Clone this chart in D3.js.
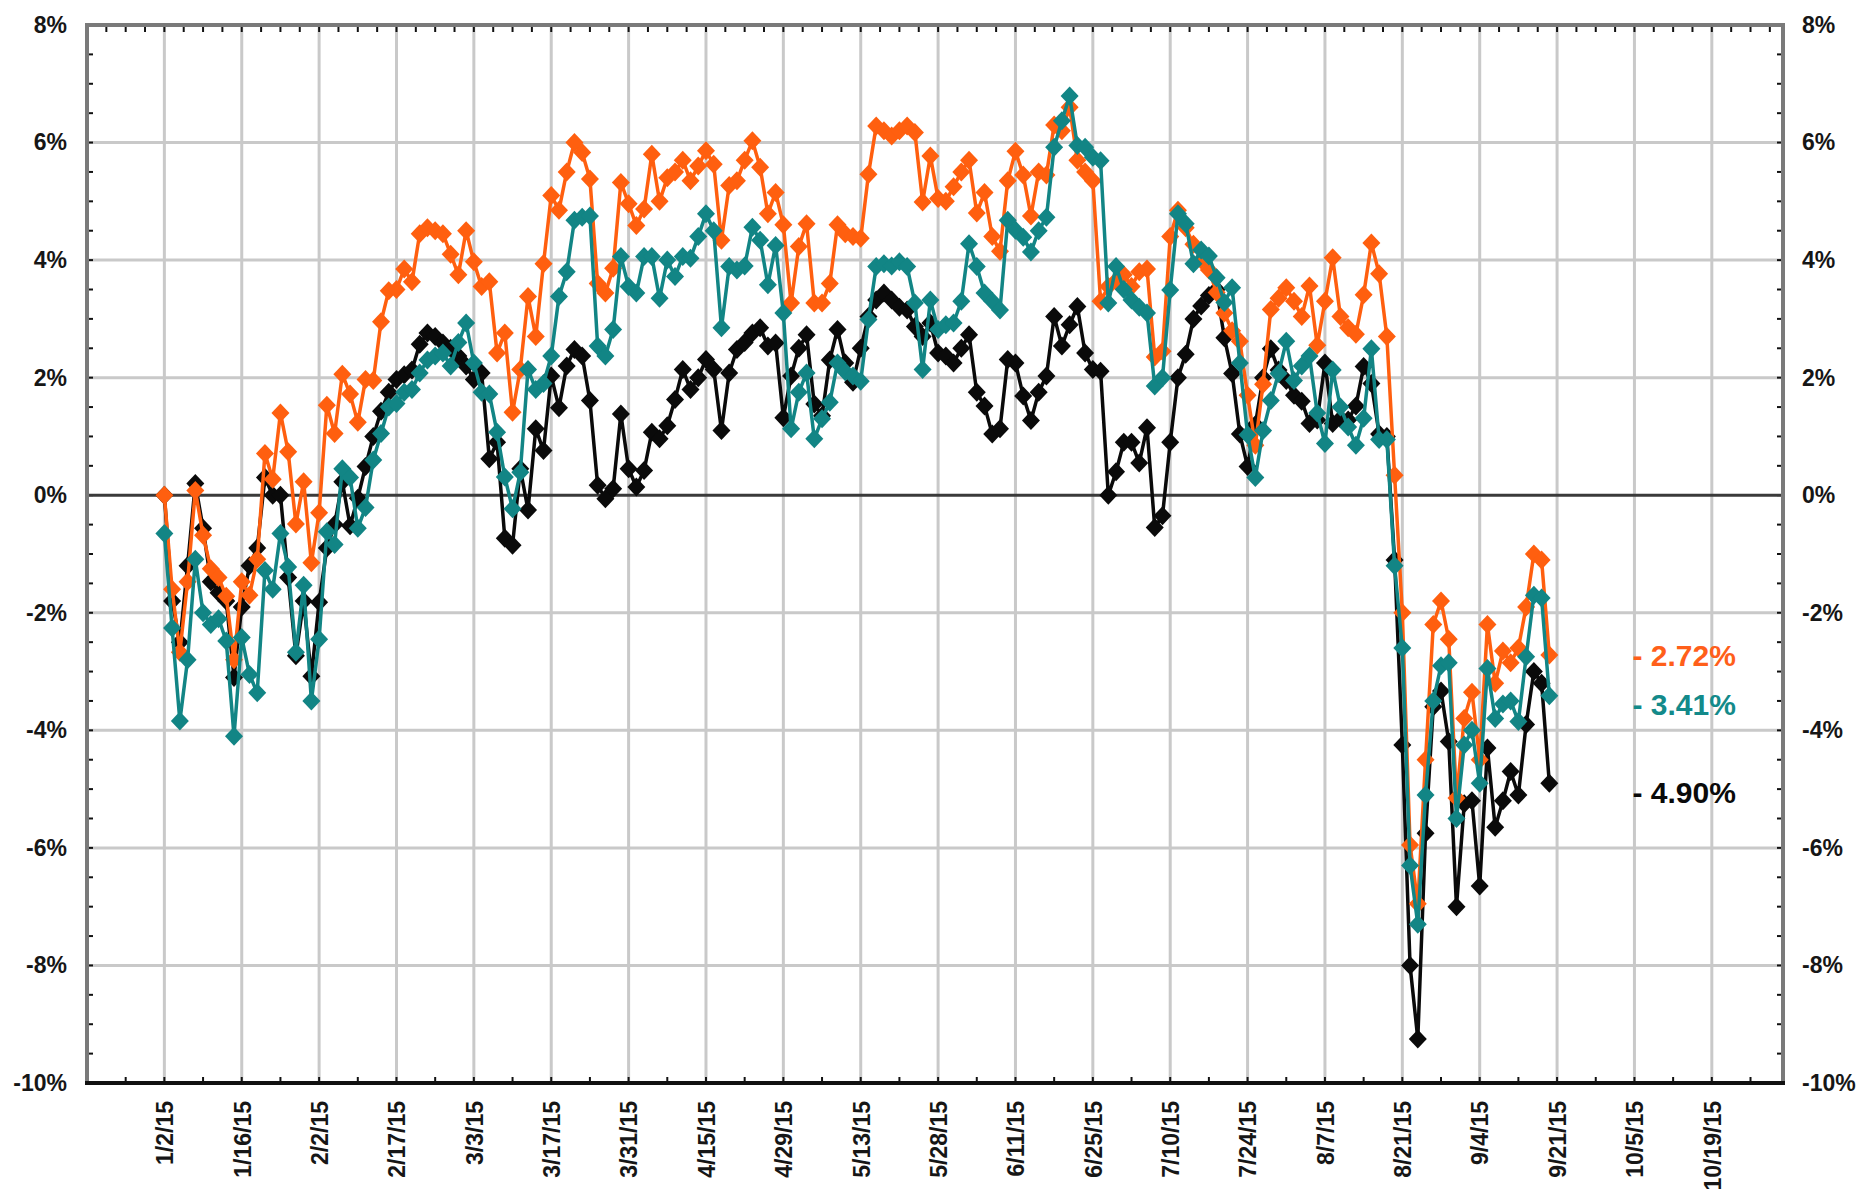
<!DOCTYPE html>
<html>
<head>
<meta charset="utf-8">
<title>Daily returns 2015</title>
<script src="https://cdn.jsdelivr.net/npm/d3@7"></script>
<style>
    body { margin: 0; background: #ffffff; }
    .axis-label { font-family: "Liberation Sans", Arial, sans-serif; font-size: 23px; font-weight: bold; fill: #161616; }
    .end-label { font-family: "Liberation Sans", Arial, sans-serif; font-size: 30px; font-weight: bold; }
    .grid-line { stroke: #c9c9c9; stroke-width: 3px; }
    .minor-tick { stroke: #111111; stroke-width: 2px; }
    .series-line { fill: none; stroke-width: 3.5px; stroke-linejoin: round; }
</style>
</head>
<body>
<div id="chart"></div>
<script>

// gridline labels (every 10 trading days)
var dayLabels = ["1/2/15", "1/16/15", "2/2/15", "2/17/15", "3/3/15", "3/17/15", "3/31/15",
    "4/15/15", "4/29/15", "5/13/15", "5/28/15", "6/11/15", "6/25/15", "7/10/15", "7/24/15",
    "8/7/15", "8/21/15", "9/4/15", "9/21/15", "10/5/15", "10/19/15"];
var labelDays = [0, 10, 20, 30, 40, 50, 60, 70, 80, 90, 100, 110, 120, 130, 140, 150, 160, 170, 180, 190, 200];

// y ticks (%)
var yTicks = [8, 6, 4, 2, 0, -2, -4, -6, -8, -10];

// cumulative return (%) per trading day
var orangeValues = [
    0.0, -1.6, -2.67, -1.47, 0.08, -0.68, -1.25, -1.4, -1.72, -2.8,
    -1.47, -1.7, -1.09, 0.71, 0.27, 1.4, 0.74, -0.49, 0.23, -1.15,
    -0.3, 1.53, 1.05, 2.06, 1.72, 1.24, 1.97, 1.95, 2.95, 3.48,
    3.5, 3.85, 3.63, 4.45, 4.55, 4.5, 4.45, 4.1, 3.75, 4.5,
    3.97, 3.55, 3.63, 2.42, 2.76, 1.41, 2.14, 3.38, 2.7, 3.94,
    5.1, 4.85, 5.5, 6.0, 5.83, 5.38, 3.6, 3.44, 3.86, 5.32,
    4.96, 4.59, 4.87, 5.8, 5.0, 5.4, 5.5, 5.7, 5.35, 5.6,
    5.86, 5.63, 4.34, 5.27, 5.35, 5.7, 6.03, 5.58, 4.79, 5.15,
    4.6, 3.27, 4.23, 4.62, 3.27, 3.27, 3.6, 4.6, 4.45, 4.4,
    4.37, 5.46, 6.28, 6.2, 6.11, 6.2, 6.28, 6.17, 4.99, 5.77,
    5.05, 5.0, 5.25, 5.5, 5.7, 4.8, 5.15, 4.4, 4.15, 5.35,
    5.85, 5.45, 4.75, 5.5, 5.45, 6.3, 6.2, 6.6, 5.7, 5.5,
    5.35, 3.3, 3.55, 3.65, 3.75, 3.55, 3.8, 3.85, 2.35, 2.45,
    4.4, 4.85, 4.55, 4.27, 4.0, 3.83, 3.45, 3.1, 2.8, 2.62,
    1.7, 0.85, 1.89, 3.16, 3.35, 3.53, 3.3, 3.04, 3.56, 2.55,
    3.3, 4.04, 3.04, 2.85, 2.74, 3.41, 4.29, 3.77, 2.7, 0.34,
    -2.0, -5.95, -6.95, -4.5, -2.2, -1.8, -2.45, -5.15, -3.8, -3.35,
    -4.5, -2.2, -3.2, -2.65, -2.85, -2.6, -1.9, -1.0, -1.1, -2.72
];

var tealValues = [
    -0.65, -2.26, -3.84, -2.8, -1.09, -2.0, -2.2, -2.1, -2.48, -4.1,
    -2.42, -3.05, -3.36, -1.28, -1.6, -0.65, -1.22, -2.67, -1.53, -3.5,
    -2.45, -0.62, -0.84, 0.45, 0.3, -0.56, -0.21, 0.6, 1.05, 1.5,
    1.56, 1.75, 1.8, 2.08, 2.3, 2.37, 2.42, 2.2, 2.6, 2.93,
    2.25, 1.75, 1.72, 1.07, 0.31, -0.23, 0.39, 2.14, 1.8, 1.9,
    2.37, 3.38, 3.8, 4.68, 4.73, 4.75, 2.54, 2.37, 2.82, 4.06,
    3.55, 3.44, 4.06, 4.06, 3.35, 4.0, 3.72, 4.06, 4.03, 4.4,
    4.79, 4.5, 2.85, 3.89, 3.83, 3.9, 4.56, 4.34, 3.58, 4.25,
    3.1, 1.13, 1.75, 2.08, 0.96, 1.3, 1.58, 2.25, 2.1, 2.03,
    1.94, 2.99, 3.89, 3.94, 3.9, 3.97, 3.89, 3.27, 2.14, 3.32,
    2.82, 2.9, 2.93, 3.3, 4.28, 3.89, 3.44, 3.3, 3.15, 4.68,
    4.51, 4.39, 4.14, 4.5, 4.73, 5.92, 6.37, 6.79, 5.95, 5.92,
    5.75, 5.69, 3.27, 3.89, 3.5, 3.32, 3.2, 3.1, 1.86, 2.0,
    3.49, 4.79, 4.62, 3.94, 4.17, 4.07, 3.7, 3.28, 3.53, 2.25,
    1.03, 0.3, 1.1, 1.61, 2.07, 2.62, 1.95, 2.2, 2.37, 1.4,
    0.88, 2.13, 1.5, 1.16, 0.85, 1.31, 2.49, 0.95, 0.95, -1.2,
    -2.6, -6.3, -7.3, -5.1, -3.5, -2.9, -2.85, -5.5, -4.25, -4.0,
    -4.9, -2.95, -3.8, -3.55, -3.5, -3.85, -2.75, -1.7, -1.75, -3.41
];

var blackValues = [
    0.0, -1.8, -2.5, -1.2, 0.2, -0.56, -1.47, -1.66, -1.8, -3.1,
    -1.9, -1.2, -0.9, 0.3, 0.0, 0.0, -1.4, -2.73, -1.8, -3.08,
    -1.82, -0.9, -0.5, 0.23, -0.52, -0.05, 0.49, 1.0, 1.43, 1.75,
    1.97, 2.05, 2.13, 2.57, 2.76, 2.7, 2.59, 2.5, 2.37, 2.2,
    1.97, 2.08, 0.62, 0.9, -0.73, -0.85, 0.45, -0.25, 1.13, 0.76,
    2.03, 1.49, 2.2, 2.48, 2.37, 1.61, 0.17, -0.06, 0.11, 1.38,
    0.45, 0.14, 0.42, 1.07, 0.96, 1.18, 1.63, 2.14, 1.8, 2.0,
    2.31, 2.14, 1.1, 2.08, 2.48, 2.6, 2.76, 2.85, 2.54, 2.59,
    1.32, 2.03, 2.5, 2.73, 1.55, 1.35, 2.3, 2.82, 2.25, 1.92,
    2.5, 3.04, 3.32, 3.44, 3.32, 3.2, 3.15, 2.87, 2.7, 2.93,
    2.42, 2.37, 2.25, 2.5, 2.73, 1.75, 1.52, 1.04, 1.13, 2.31,
    2.25, 1.69, 1.27, 1.75, 2.03, 3.04, 2.54, 2.9, 3.21, 2.42,
    2.14, 2.11, 0.0, 0.4, 0.9, 0.9, 0.55, 1.15, -0.55, -0.35,
    0.9, 2.0, 2.4, 3.0, 3.22, 3.4, 3.5, 2.68, 2.07, 1.04,
    0.49, 1.2, 2.0, 2.49, 2.13, 1.95, 1.7, 1.6, 1.22, 1.28,
    2.25, 1.22, 1.3, 1.28, 1.52, 2.19, 1.9, 1.04, 1.0, -1.1,
    -4.25, -8.0, -9.25, -5.75, -3.6, -3.33, -4.19, -7.0, -5.25, -5.2,
    -6.65, -4.3, -5.65, -5.2, -4.7, -5.1, -3.9, -3.0, -3.2, -4.9
];

// end-of-series annotations
var endLabels = ["- 2.72%", "- 3.41%", "- 4.90%"];


/*
 *  lineChart - Object constructor function
 *  @param _parentElement   -- HTML element in which to draw the visualization
 */

lineChart = function(_parentElement) {
    this.parentElement = _parentElement;

    // drawing order: black at the back, teal on top
    this.series = [
        { values: blackValues,  color: "#0a0a0a" },
        { values: orangeValues, color: "#ff5f0f" },
        { values: tealValues,   color: "#128585" }
    ];

    this.initVis();
}


/*
 *  Initialize Vis
 */

lineChart.prototype.initVis = function() {
    var vis = this;

    vis.width = 1860;
    vis.height = 1201;
    vis.margin = { top: 25, right: 77, bottom: 118, left: 87 };

    vis.svg = d3.select(vis.parentElement).append("svg")
        .attr("width", vis.width)
        .attr("height", vis.height);

    // * scales (x = trading day index)
    vis.x = d3.scaleLinear()
        .domain([-10, 209.2])
        .range([vis.margin.left, vis.width - vis.margin.right]);

    vis.y = d3.scaleLinear()
        .domain([-10, 8])
        .range([vis.height - vis.margin.bottom, vis.margin.top]);

    vis.drawGrid();
    vis.drawAxes();
    vis.drawSeries();
    vis.drawLabels();
}


/*
 *  Gridlines + minor ticks
 */

lineChart.prototype.drawGrid = function() {
    var vis = this;
    var x0 = vis.x.range()[0], x1 = vis.x.range()[1];
    var y0 = vis.y.range()[1], y1 = vis.y.range()[0];

    vis.svg.append("rect")
        .attr("x", x0).attr("y", y0)
        .attr("width", x1 - x0).attr("height", y1 - y0)
        .attr("fill", "#ffffff");

    vis.svg.selectAll(".grid-h")
        .data(yTicks.filter(function(d){ return d != 0 && d != 8 && d != -10; }))
        .enter().append("line")
        .attr("class", "grid-line grid-h")
        .attr("x1", x0).attr("x2", x1)
        .attr("y1", function(d){ return vis.y(d); })
        .attr("y2", function(d){ return vis.y(d); });

    vis.svg.selectAll(".grid-v")
        .data(labelDays)
        .enter().append("line")
        .attr("class", "grid-line grid-v")
        .attr("y1", y0).attr("y2", y1)
        .attr("x1", function(d){ return vis.x(d); })
        .attr("x2", function(d){ return vis.x(d); });

    // top minor ticks (every 2.5 days), bottom (every 5 days)
    vis.svg.selectAll(".tick-top")
        .data(d3.range(-7.5, 209, 2.5))
        .enter().append("line")
        .attr("class", "minor-tick")
        .attr("x1", function(d){ return vis.x(d); })
        .attr("x2", function(d){ return vis.x(d); })
        .attr("y1", y0).attr("y2", y0 + 7);

    vis.svg.selectAll(".tick-bottom")
        .data(d3.range(-5, 209, 5))
        .enter().append("line")
        .attr("class", "minor-tick")
        .attr("x1", function(d){ return vis.x(d); })
        .attr("x2", function(d){ return vis.x(d); })
        .attr("y1", y1).attr("y2", y1 - 6);

    // left / right minor ticks (every 0.5%)
    var yMinor = d3.range(-9.5, 8, 0.5);
    [x0, x1].forEach(function(xx, k) {
        var dir = k ? -1 : 1;
        vis.svg.selectAll(".tick-side" + k)
            .data(yMinor)
            .enter().append("line")
            .attr("class", "minor-tick")
            .attr("x1", xx).attr("x2", xx + dir * 6)
            .attr("y1", function(d){ return vis.y(d); })
            .attr("y2", function(d){ return vis.y(d); });
    });

    // zero line
    vis.svg.append("line")
        .attr("x1", x0).attr("x2", x1)
        .attr("y1", vis.y(0)).attr("y2", vis.y(0))
        .attr("stroke", "#3a3a3a")
        .attr("stroke-width", 3);
}


/*
 *  Axes
 */

lineChart.prototype.drawAxes = function() {
    var vis = this;
    var x0 = vis.x.range()[0], x1 = vis.x.range()[1];
    var y0 = vis.y.range()[1], y1 = vis.y.range()[0];

    var pct = function(d){ return d + "%"; };

    var left = vis.svg.append("g")
        .attr("transform", "translate(" + x0 + ",0)")
        .call(d3.axisLeft(vis.y).tickValues(yTicks).tickFormat(pct).tickSize(0).tickPadding(20));

    var right = vis.svg.append("g")
        .attr("transform", "translate(" + x1 + ",0)")
        .call(d3.axisRight(vis.y).tickValues(yTicks).tickFormat(pct).tickSize(0).tickPadding(19));

    var bottom = vis.svg.append("g")
        .attr("transform", "translate(0," + y1 + ")")
        .call(d3.axisBottom(vis.x).tickValues(labelDays)
            .tickFormat(function(d, i){ return dayLabels[i]; })
            .tickSize(0));

    bottom.selectAll("text")
        .attr("transform", "rotate(-90)")
        .attr("text-anchor", "end")
        .attr("x", -18)
        .attr("y", 0)
        .attr("dy", "0.36em");

    [left, right, bottom].forEach(function(g) {
        g.select(".domain").remove();
        g.selectAll("text")
            .attr("class", "axis-label")
            .attr("fill", null)
            .attr("font-size", null)
            .attr("font-family", null);
    });

    // frame
    var frame = [
        { x1: x0, y1: y0, x2: x1, y2: y0, c: "#7a7a7a" },
        { x1: x0, y1: y0, x2: x0, y2: y1, c: "#7a7a7a" },
        { x1: x1, y1: y0, x2: x1, y2: y1, c: "#7a7a7a" },
        { x1: x0, y1: y1, x2: x1, y2: y1, c: "#111111" }
    ];
    vis.svg.selectAll(".frame")
        .data(frame)
        .enter().append("line")
        .attr("x1", function(d){ return d.x1; })
        .attr("y1", function(d){ return d.y1; })
        .attr("x2", function(d){ return d.x2; })
        .attr("y2", function(d){ return d.y2; })
        .attr("stroke", function(d){ return d.c; })
        .attr("stroke-width", 4)
        .attr("stroke-linecap", "square");
}


/*
 *  Lines + diamond markers
 */

lineChart.prototype.drawSeries = function() {
    var vis = this;

    var line = d3.line()
        .x(function(d, i){ return vis.x(i); })
        .y(function(d){ return vis.y(d); });

    var diamond = "M0,-9.5L9,0L0,9.5L-9,0Z";

    vis.series.forEach(function(s) {
        var g = vis.svg.append("g");

        g.append("path")
            .datum(s.values)
            .attr("class", "series-line")
            .attr("stroke", s.color)
            .attr("d", line);

        g.selectAll(".marker")
            .data(s.values)
            .enter().append("path")
            .attr("d", diamond)
            .attr("transform", function(d, i){ return "translate(" + vis.x(i) + "," + vis.y(d) + ")"; })
            .attr("fill", s.color);
    });
}


/*
 *  End labels
 */

lineChart.prototype.drawLabels = function() {
    var vis = this;

    var colors = ["#ff5f1a", "#138a8a", "#0a0a0a"];
    var last = [orangeValues, tealValues, blackValues].map(function(v){ return v[v.length - 1]; });
    var nudge = [0, 9, 9];

    vis.svg.selectAll(".end-label")
        .data(endLabels)
        .enter().append("text")
        .attr("class", "end-label")
        .attr("x", vis.x(190) - 2)
        .attr("y", function(d, i){ return vis.y(last[i]) + nudge[i]; })
        .attr("dy", "0.36em")
        .attr("fill", function(d, i){ return colors[i]; })
        .text(function(d){ return d; });
}


var chart = new lineChart("#chart");

</script>
</body>
</html>
